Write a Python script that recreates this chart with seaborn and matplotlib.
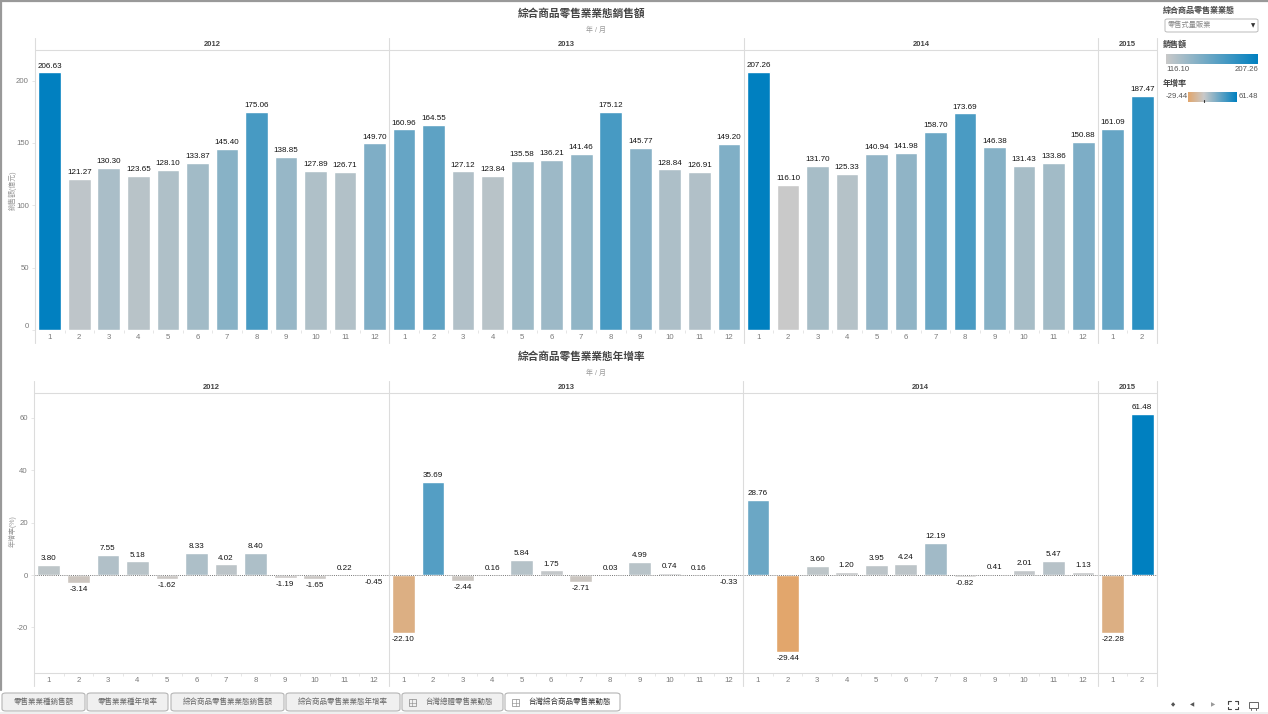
import numpy as np
import pandas as pd
import seaborn as sns
import matplotlib.pyplot as plt
from matplotlib.colors import LinearSegmentedColormap, TwoSlopeNorm, Normalize
from matplotlib.lines import Line2D
from matplotlib.patches import FancyBboxPatch, Rectangle

months = [1, 2, 3, 4, 5, 6, 7, 8, 9, 10, 11, 12,
          1, 2, 3, 4, 5, 6, 7, 8, 9, 10, 11, 12,
          1, 2, 3, 4, 5, 6, 7, 8, 9, 10, 11, 12,
          1, 2]
years = ["2012", "2013", "2014", "2015"]
year_counts = [12, 12, 12, 2]

sales = [206.63, 121.27, 130.30, 123.65, 128.10, 133.87, 145.40, 175.06, 138.85, 127.89, 126.71, 149.70,
         160.96, 164.55, 127.12, 123.84, 135.58, 136.21, 141.46, 175.12, 145.77, 128.84, 126.91, 149.20,
         207.26, 116.10, 131.70, 125.33, 140.94, 141.98, 158.70, 173.69, 146.38, 131.43, 133.86, 150.88,
         161.09, 187.47]
growth = [3.80, -3.14, 7.55, 5.18, -1.62, 8.33, 4.02, 8.40, -1.19, -1.65, 0.22, -0.45,
          -22.10, 35.69, -2.44, 0.16, 5.84, 1.75, -2.71, 0.03, 4.99, 0.74, 0.16, -0.33,
          28.76, -29.44, 3.60, 1.20, 3.95, 4.24, 12.19, -0.82, 0.41, 2.01, 5.47, 1.13,
          -22.28, 61.48]

tabs = ["零售業業種銷售額", "零售業業種年增率", "綜合商品零售業業態銷售額",
        "綜合商品零售業業態年增率", "台灣總體零售業動態", "台灣綜合商品零售業動態"]
tab_edges = [(2, 85), (87, 168), (171, 284), (286, 400), (402, 503), (505, 620)]

sns.set_theme(style="white")
plt.rcParams["font.family"] = ["Liberation Sans", "Noto Sans CJK TC", "DejaVu Sans"]

W, H = 1268, 714
fig = plt.figure(figsize=(W / 100, H / 100), dpi=100)

LINE = "#dcdcdc"
GREY = "#7a7a7a"
TITLE = "#444444"

sales_cmap = LinearSegmentedColormap.from_list("sales", ["#c9c9c9", "#0080c0"])
growth_cmap = LinearSegmentedColormap.from_list("growth", ["#e2a66c", "#c9c9c9", "#0080c0"])
sales_norm = Normalize(min(sales), max(sales))
growth_norm = TwoSlopeNorm(vmin=min(growth), vcenter=0, vmax=max(growth))


def fx(px):
    return px / W


def fy(py):
    return 1 - py / H


def make_ax(left, right, top, bottom):
    return fig.add_axes([fx(left), fy(bottom), fx(right - left), (bottom - top) / H])


def fig_line(x0, y0, x1, y1, color=LINE, lw=0.8):
    fig.add_artist(Line2D([fx(x0), fx(x1)], [fy(y0), fy(y1)], color=color, lw=lw))


def fig_text(x, y, s, size=5.5, color=GREY, ha="center", va="center", **kw):
    return fig.text(fx(x), fy(y), s, fontsize=size, color=color, ha=ha, va=va, **kw)


def bar_panel(ax, values, cmap, norm, ylim, yticks):
    df = pd.DataFrame({"pos": range(len(values)), "value": values})
    colors = [cmap(norm(v)) for v in values]
    sns.barplot(data=df, x="pos", y="value", hue="pos", palette=colors, legend=False,
                width=0.77, saturation=1, ax=ax)
    for c in ax.containers:
        ax.bar_label(c, labels=[f"{b.get_height():.2f}" for b in c], padding=2,
                     fontsize=5.8, color="#111111")
    ax.axhline(0, color="#777777", lw=0.7, ls=(0, (1, 1.2)), zorder=5)
    ax.set_xlim(-0.5, len(values) - 0.5)
    ax.set_ylim(*ylim)
    ax.set_xticks(range(len(values)))
    ax.set_xticklabels(months, fontsize=5.6, color=GREY)
    ax.set_yticks(yticks)
    ax.set_yticklabels(yticks, fontsize=5.6, color=GREY)
    ax.set_xlabel("")
    ax.set_ylabel("")
    ax.tick_params(axis="y", length=2.5, width=0.5, color=LINE, pad=2, left=True)
    ax.tick_params(axis="x", length=0, pad=3)
    ax.set_xticks(np.arange(0.5, len(values) - 1), minor=True)
    ax.tick_params(axis="x", which="minor", length=2, width=0.5, color=LINE, bottom=True)
    sns.despine(ax=ax, top=True, right=True, left=True, bottom=True)
    ax.patch.set_alpha(0)


def panel_frame(left, right, head_top, head_line, base, low, bottom_line=False):
    fig_line(left, head_line, right, head_line)
    fig_line(right, head_top, right, low)
    step = (right - left) / len(months)
    pos = 0
    for year, n in zip(years, year_counts):
        x = left + pos * step
        fig_line(x, head_top, x, low)
        fig_text(x + n * step / 2, (head_top + head_line) / 2 + 0.5, year, size=5.5,
                 color="#444444", fontweight="bold")
        pos += n
    if bottom_line:
        fig_line(left, base, right, base)


# top panel: 1.247 px per unit, baseline at y=330
ax1 = make_ax(35, 1157, 50, 330)
bar_panel(ax1, sales, sales_cmap, sales_norm, (0, 280 / 1.247), [0, 50, 100, 150, 200])
ax1.get_yticklabels()[0].set_va("bottom")
panel_frame(35, 1157, 38, 50, 330, 343)

# bottom panel: 2.617 px per unit, zero at y=575
ax2 = make_ax(34, 1157, 393, 673)
bar_panel(ax2, growth, growth_cmap, growth_norm, (-98 / 2.617, 182 / 2.617), [-20, 0, 20, 40, 60])
panel_frame(34, 1157, 381, 393, 673, 686, bottom_line=True)

# titles
fig_text(582, 13, "綜合商品零售業業態銷售額", size=7.7, color=TITLE, fontweight="bold")
fig_text(596, 30, "年 / 月", size=5, color="#999999")
fig_text(582, 356, "綜合商品零售業業態年增率", size=7.7, color=TITLE, fontweight="bold")
fig_text(596, 373, "年 / 月", size=5, color="#999999")
fig_text(13, 190, "銷售額(億元)", size=5, color="#999999", rotation=90)
fig_text(13, 531, "年增率(%)", size=5, color="#999999", rotation=90)

# right side legends
fig_text(1163, 11, "綜合商品零售業業態", size=5.8, color=TITLE, ha="left", fontweight="bold")
fig.add_artist(FancyBboxPatch((fx(1165), fy(32)), fx(93), 13 / H, boxstyle="round,pad=0,rounding_size=0.002",
                              fc="white", ec="#bbbbbb", lw=0.7, transform=fig.transFigure))
fig_text(1168, 25.5, "零售式量販業", size=5.2, color="#888888", ha="left")
fig_text(1253, 25.5, "▼", size=4, color="#333333", family="DejaVu Sans")

fig_text(1163, 45, "銷售額", size=5.8, color=TITLE, ha="left", fontweight="bold")
ax_s = make_ax(1166, 1258, 54, 64)
ax_s.imshow(np.linspace(0, 1, 256)[None, :], aspect="auto", cmap=sales_cmap)
ax_s.axis("off")
fig_text(1166, 69.5, f"{min(sales):.2f}", size=5.6, color="#555555", ha="left")
fig_text(1258, 69.5, f"{max(sales):.2f}", size=5.6, color="#555555", ha="right")

fig_text(1163, 84, "年增率", size=5.8, color=TITLE, ha="left", fontweight="bold")
ax_g = make_ax(1188, 1237, 92, 102)
grad = np.linspace(min(growth), max(growth), 256)
ax_g.imshow(growth_norm(grad)[None, :], aspect="auto", cmap=growth_cmap)
ax_g.axis("off")
fig_line(1204, 100, 1204, 102, color="#333333", lw=0.8)
fig_text(1166, 96, f"{min(growth):.2f}", size=5.6, color="#555555", ha="left")
fig_text(1258, 96, f"{max(growth):.2f}", size=5.6, color="#555555", ha="right")

# tab strip
fig.add_artist(Rectangle((0, 0), 1, 2 / H, fc="#efefef", ec="none", transform=fig.transFigure, zorder=-1))
for i, (name, (x0, x1)) in enumerate(zip(tabs, tab_edges)):
    active = i == len(tabs) - 1
    fig.add_artist(FancyBboxPatch((fx(x0), fy(711)), fx(x1 - x0), 18 / H,
                                  boxstyle="round,pad=0,rounding_size=0.003",
                                  fc="white" if active else "#f0f0f0", ec="#b5b5b5", lw=0.8,
                                  transform=fig.transFigure))
    cx = (x0 + x1) / 2
    if i >= 4:
        cx += 7
        fig.add_artist(Rectangle((fx(x0 + 7), fy(706)), fx(7), 7 / H, fc="none", ec="#888888",
                                 lw=0.5, transform=fig.transFigure))
        fig_line(x0 + 10.5, 699, x0 + 10.5, 706, color="#888888", lw=0.4)
        fig_line(x0 + 7, 702.5, x0 + 14, 702.5, color="#888888", lw=0.4)
    fig_text(cx, 702, name, size=5.4, color="#333333" if active else "#666666")

# toolbar glyphs
fig_text(1173, 705, "◆", size=4, color="#555555", family="DejaVu Sans")
fig_text(1192, 705, "◀", size=4, color="#555555", family="DejaVu Sans")
fig_text(1213, 705, "▶", size=4, color="#999999", family="DejaVu Sans")
for x, y, dx, dy in [(1228, 701, 1, 1), (1238, 701, -1, 1), (1228, 709, 1, -1), (1238, 709, -1, -1)]:
    fig_line(x, y, x + 3 * dx, y, color="#444444", lw=0.8)
    fig_line(x, y, x, y + 2.5 * dy, color="#444444", lw=0.8)
fig.add_artist(Rectangle((fx(1249), fy(708)), fx(9), 6 / H, fc="none", ec="#666666", lw=0.7,
                         transform=fig.transFigure))
fig_line(1251, 708, 1251, 710, color="#666666", lw=0.7)
fig_line(1256, 708, 1256, 710, color="#666666", lw=0.7)

# window border
fig_line(0.5, 0, 0.5, 690, color="#999999", lw=1.6)
fig_line(0, 0.5, W, 0.5, color="#999999", lw=1.6)

fig.savefig("out.png", dpi=100)
